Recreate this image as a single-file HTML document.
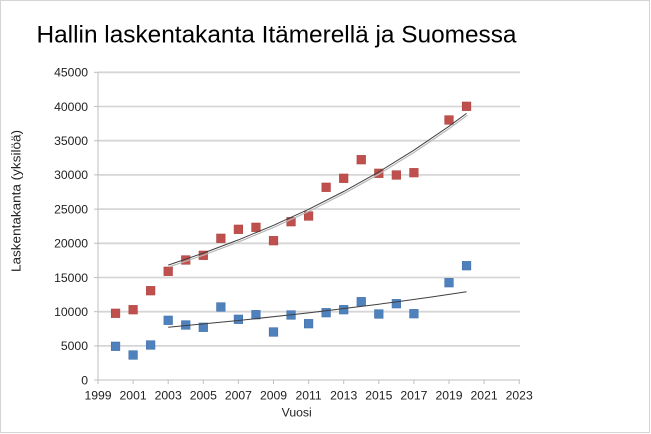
<!DOCTYPE html>
<html><head><meta charset="utf-8"><style>
html,body{margin:0;padding:0;background:#fff;}
svg{display:block;}
text{font-family:"Liberation Sans",Arial,sans-serif;}
</style></head><body>
<svg width="651" height="434" viewBox="0 0 651 434" xmlns="http://www.w3.org/2000/svg">
<rect x="0.5" y="0.5" width="649" height="432" fill="#fff" stroke="#d4d4d4" stroke-width="1"/>
<text x="36.5" y="42.3" font-size="24" fill="#000" textLength="480" lengthAdjust="spacingAndGlyphs">Hallin laskentakanta Itämerellä ja Suomessa</text>
<g stroke="#d6d6d6" stroke-width="1.8">
<line x1="98" y1="72.3" x2="520" y2="72.3"/>
<line x1="98" y1="106.5" x2="520" y2="106.5"/>
<line x1="98" y1="140.7" x2="520" y2="140.7"/>
<line x1="98" y1="174.9" x2="520" y2="174.9"/>
<line x1="98" y1="209.1" x2="520" y2="209.1"/>
<line x1="98" y1="243.3" x2="520" y2="243.3"/>
<line x1="98" y1="277.5" x2="520" y2="277.5"/>
<line x1="98" y1="311.7" x2="520" y2="311.7"/>
<line x1="98" y1="345.9" x2="520" y2="345.9"/>
</g>
<g stroke="#bfbfbf" stroke-width="1">
<line x1="98" y1="72" x2="98" y2="380"/>
<line x1="98" y1="380" x2="520" y2="380"/>
<line x1="94" y1="72.3" x2="98" y2="72.3"/>
<line x1="94" y1="106.5" x2="98" y2="106.5"/>
<line x1="94" y1="140.7" x2="98" y2="140.7"/>
<line x1="94" y1="174.9" x2="98" y2="174.9"/>
<line x1="94" y1="209.1" x2="98" y2="209.1"/>
<line x1="94" y1="243.3" x2="98" y2="243.3"/>
<line x1="94" y1="277.5" x2="98" y2="277.5"/>
<line x1="94" y1="311.7" x2="98" y2="311.7"/>
<line x1="94" y1="345.9" x2="98" y2="345.9"/>
<line x1="94" y1="380" x2="98" y2="380"/>
<line x1="98" y1="380" x2="98" y2="384"/>
<line x1="133.1" y1="380" x2="133.1" y2="384"/>
<line x1="168.2" y1="380" x2="168.2" y2="384"/>
<line x1="203.3" y1="380" x2="203.3" y2="384"/>
<line x1="238.4" y1="380" x2="238.4" y2="384"/>
<line x1="273.5" y1="380" x2="273.5" y2="384"/>
<line x1="308.6" y1="380" x2="308.6" y2="384"/>
<line x1="343.7" y1="380" x2="343.7" y2="384"/>
<line x1="378.8" y1="380" x2="378.8" y2="384"/>
<line x1="413.9" y1="380" x2="413.9" y2="384"/>
<line x1="449" y1="380" x2="449" y2="384"/>
<line x1="484.1" y1="380" x2="484.1" y2="384"/>
<line x1="519.2" y1="380" x2="519.2" y2="384"/>
</g>
<g font-size="12.2" fill="#222" text-anchor="end">
<text x="88" y="76.6">45000</text>
<text x="88" y="110.8">40000</text>
<text x="88" y="145">35000</text>
<text x="88" y="179.2">30000</text>
<text x="88" y="213.4">25000</text>
<text x="88" y="247.6">20000</text>
<text x="88" y="281.8">15000</text>
<text x="88" y="316">10000</text>
<text x="88" y="350.2">5000</text>
<text x="88" y="384.3">0</text>
</g>
<g font-size="12.2" fill="#222" text-anchor="middle">
<text x="98" y="399.5">1999</text>
<text x="133.1" y="399.5">2001</text>
<text x="168.2" y="399.5">2003</text>
<text x="203.3" y="399.5">2005</text>
<text x="238.4" y="399.5">2007</text>
<text x="273.5" y="399.5">2009</text>
<text x="308.6" y="399.5">2011</text>
<text x="343.7" y="399.5">2013</text>
<text x="378.8" y="399.5">2015</text>
<text x="413.9" y="399.5">2017</text>
<text x="449" y="399.5">2019</text>
<text x="484.1" y="399.5">2021</text>
<text x="519.2" y="399.5">2023</text>
</g>
<text x="296.7" y="416.5" font-size="12.2" fill="#222" text-anchor="middle">Vuosi</text>
<text transform="translate(20.6,201) rotate(-90)" font-size="12.5" fill="#222" text-anchor="middle" textLength="142" lengthAdjust="spacingAndGlyphs">Laskentakanta (yksilöä)</text>

<!-- red markers -->
<g fill="#c0504d" stroke="#b04541" stroke-width="0.6" transform="translate(-0.3,-0.3)">
<rect x="111.55" y="309.3" width="8.6" height="8.6"/>
<rect x="129.1" y="305.7" width="8.6" height="8.6"/>
<rect x="146.65" y="286.7" width="8.6" height="8.6"/>
<rect x="164.2" y="267.3" width="8.6" height="8.6"/>
<rect x="181.75" y="256" width="8.6" height="8.6"/>
<rect x="199.3" y="251.3" width="8.6" height="8.6"/>
<rect x="216.85" y="234.3" width="8.6" height="8.6"/>
<rect x="234.4" y="225.3" width="8.6" height="8.6"/>
<rect x="251.95" y="223.3" width="8.6" height="8.6"/>
<rect x="269.5" y="236.7" width="8.6" height="8.6"/>
<rect x="287.05" y="217.7" width="8.6" height="8.6"/>
<rect x="304.6" y="212" width="8.6" height="8.6"/>
<rect x="322.15" y="183.3" width="8.6" height="8.6"/>
<rect x="339.7" y="174.3" width="8.6" height="8.6"/>
<rect x="357.25" y="155.7" width="8.6" height="8.6"/>
<rect x="374.8" y="169.3" width="8.6" height="8.6"/>
<rect x="392.35" y="171" width="8.6" height="8.6"/>
<rect x="409.9" y="168.7" width="8.6" height="8.6"/>
<rect x="445" y="116" width="8.6" height="8.6"/>
<rect x="462.55" y="102.3" width="8.6" height="8.6"/>
</g>
<!-- blue markers -->
<g fill="#4f81bd" stroke="#4373ad" stroke-width="0.6" transform="translate(-0.3,-0.3)">
<rect x="111.55" y="342.3" width="8.6" height="8.6"/>
<rect x="129.1" y="351" width="8.6" height="8.6"/>
<rect x="146.65" y="341" width="8.6" height="8.6"/>
<rect x="164.2" y="316.3" width="8.6" height="8.6"/>
<rect x="181.75" y="321" width="8.6" height="8.6"/>
<rect x="199.3" y="323.3" width="8.6" height="8.6"/>
<rect x="216.85" y="303" width="8.6" height="8.6"/>
<rect x="234.4" y="315.3" width="8.6" height="8.6"/>
<rect x="251.95" y="310.7" width="8.6" height="8.6"/>
<rect x="269.5" y="328" width="8.6" height="8.6"/>
<rect x="287.05" y="311" width="8.6" height="8.6"/>
<rect x="304.6" y="319.7" width="8.6" height="8.6"/>
<rect x="322.15" y="308.7" width="8.6" height="8.6"/>
<rect x="339.7" y="305.7" width="8.6" height="8.6"/>
<rect x="357.25" y="297.7" width="8.6" height="8.6"/>
<rect x="374.8" y="310" width="8.6" height="8.6"/>
<rect x="392.35" y="299.7" width="8.6" height="8.6"/>
<rect x="409.9" y="309.7" width="8.6" height="8.6"/>
<rect x="445" y="278.7" width="8.6" height="8.6"/>
<rect x="462.55" y="261.7" width="8.6" height="8.6"/>
</g>
<!-- red trend (double line) -->
<polyline fill="none" stroke="#b8b8b8" stroke-width="1.2" transform="translate(0.8,1.8)" points="168.2,265.1 203.3,253.1 238.4,239.9 273.5,225.3 308.6,209.3 343.7,191.5 378.8,171.9 413.9,150.2 449,126.3 466.55,113.4"/>
<polyline fill="none" stroke="#404040" stroke-width="1" points="168.2,265.1 203.3,253.1 238.4,239.9 273.5,225.3 308.6,209.3 343.7,191.5 378.8,171.9 413.9,150.2 449,126.3 466.55,113.4"/>
<!-- blue trend -->
<polyline fill="none" stroke="#404040" stroke-width="1" points="168.2,327.3 238.4,320.5 308.6,312.9 378.8,304.2 396.35,301.9 431.45,297 466.55,291.8"/>
</svg>
</body></html>
